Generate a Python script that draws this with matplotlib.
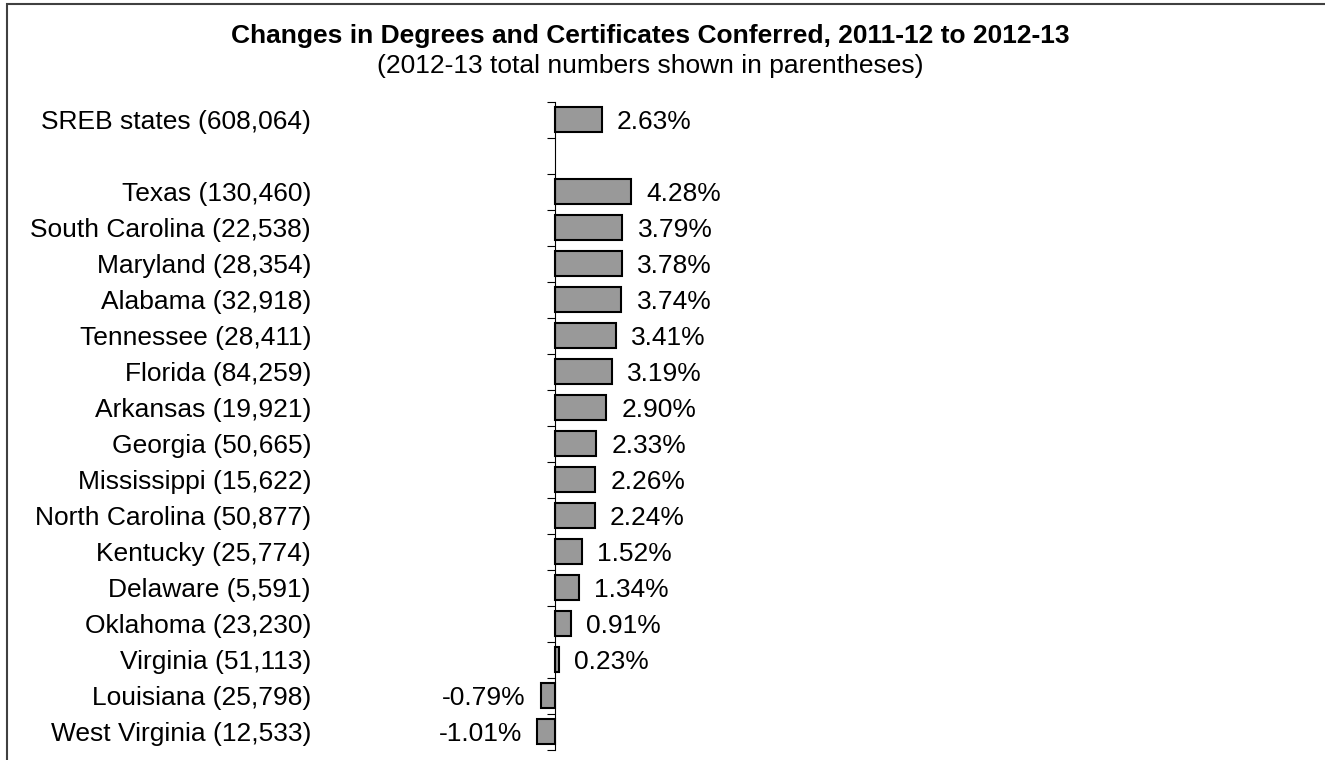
import matplotlib.pyplot as plt
import matplotlib.transforms as mtransforms
from matplotlib.patches import Rectangle
import numpy as np

plt.rcParams['font.family'] = ['Liberation Sans', 'DejaVu Sans']

# data
states = ['SREB states', 'Texas', 'South Carolina', 'Maryland', 'Alabama', 'Tennessee',
          'Florida', 'Arkansas', 'Georgia', 'Mississippi', 'North Carolina', 'Kentucky',
          'Delaware', 'Oklahoma', 'Virginia', 'Louisiana', 'West Virginia']
totals = [608064, 130460, 22538, 28354, 32918, 28411, 84259, 19921, 50665, 15622,
          50877, 25774, 5591, 23230, 51113, 25798, 12533]
changes = [2.63, 4.28, 3.79, 3.78, 3.74, 3.41, 3.19, 2.90, 2.33, 2.26, 2.24, 1.52,
           1.34, 0.91, 0.23, -0.79, -1.01]

# SREB first, one empty row, then the states
ypos = np.array([0] + list(range(2, len(states) + 1)))
nrows = len(states) + 1

W, H = 1325, 760
fig = plt.figure(figsize=(W / 100, H / 100), dpi=100)
ax = fig.add_axes([340 / W, 1 - 749.5 / H, 960 / W, 648 / H])

ax.barh(ypos, changes, height=0.69, color='#999999', edgecolor='black', linewidth=1.5)
ax.set_xlim(-215 / 17.75, 745 / 17.75)
ax.set_ylim(nrows - 0.5, -0.5)

# axis line through zero, ticks between the categories
for s in ['top', 'right', 'bottom']:
    ax.spines[s].set_visible(False)
ax.spines['left'].set_position(('data', 0))
ax.spines['left'].set_linewidth(0.8)
ax.set_yticks(np.arange(nrows + 1) - 0.5)
ax.set_yticklabels([])
ax.tick_params(axis='y', direction='out', length=6, width=0.8)
ax.set_xticks([])

# value labels
for y, v in zip(ypos, changes):
    ax.annotate(f'{v:.2f}%', (v, y), xytext=(11 if v >= 0 else -11, 0),
                textcoords='offset points', ha='left' if v >= 0 else 'right',
                va='center_baseline', fontsize=19)

# category labels at the left of the plot area
trans = mtransforms.blended_transform_factory(fig.transFigure, ax.transData)
for y, name, n in zip(ypos, states, totals):
    ax.text(311 / W, y, f'{name} ({n:,})', transform=trans, ha='right',
            va='center_baseline', fontsize=19)

fig.text(650 / W, 1 - 43 / H, 'Changes in Degrees and Certificates Conferred, 2011-12 to 2012-13',
         ha='center', va='baseline', fontsize=19, fontweight='bold')
fig.text(650 / W, 1 - 73 / H, '(2012-13 total numbers shown in parentheses)',
         ha='center', va='baseline', fontsize=19)

# chart border (left and top visible)
fig.patches.append(Rectangle((7 / W, -0.1), 1.2, 1.1 - 4 / H, transform=fig.transFigure,
                             fill=False, edgecolor='#404040', linewidth=1.5))

fig.savefig('out.png', dpi=100)
